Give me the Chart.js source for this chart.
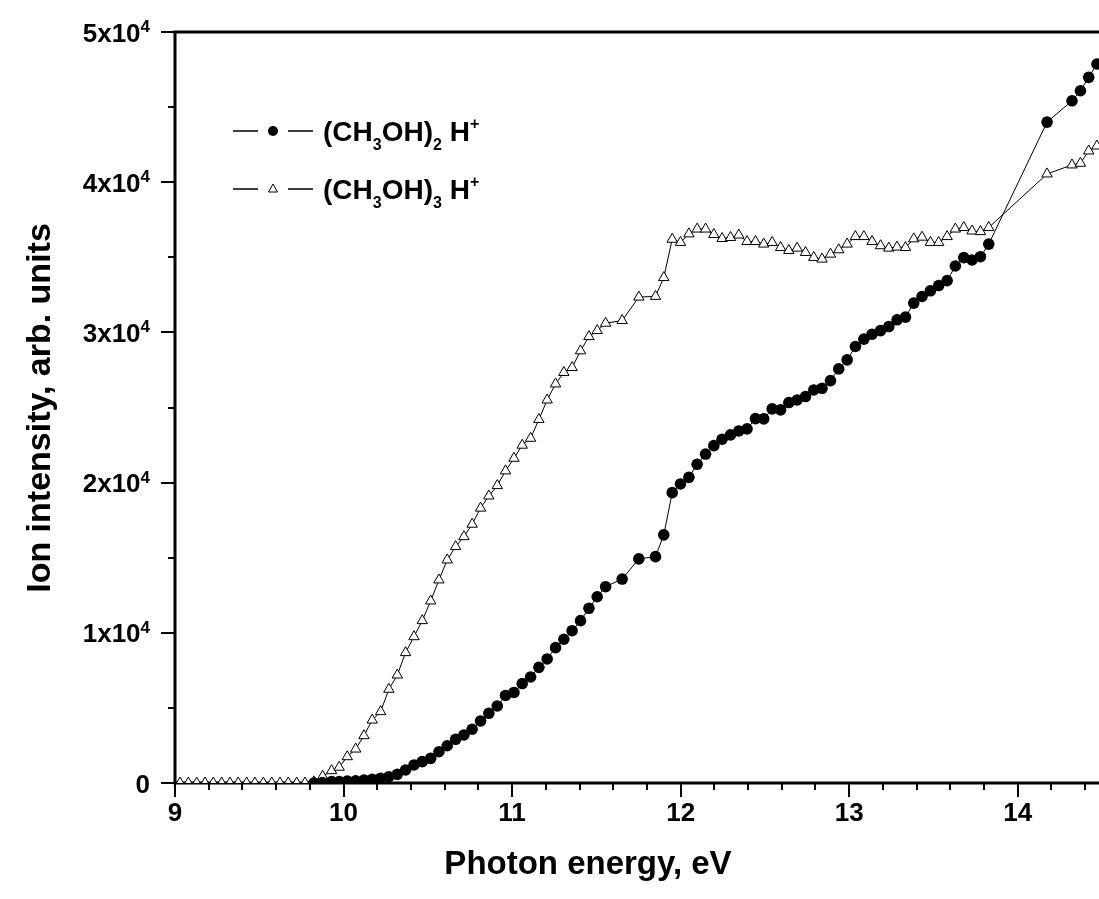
<!DOCTYPE html>
<html lang="en">
<head>
<meta charset="UTF-8">
<title>Ion intensity vs photon energy</title>
<script src="https://cdn.jsdelivr.net/npm/chart.js@4.4.0/dist/chart.umd.min.js"></script>
<style>
  html, body { margin: 0; padding: 0; background: #fff; overflow: hidden; }
  canvas { display: block; }
</style>
</head>
<body>
<canvas id="myChart" width="1104" height="899"></canvas>
<script>
// photon energy (eV), shared by both series
var energy = [
  9.030, 9.079, 9.129, 9.178, 9.227, 9.277, 9.326, 9.375, 9.425, 9.474,
  9.524, 9.574, 9.623, 9.672, 9.722, 9.771, 9.824, 9.876, 9.929, 9.974,
  10.022, 10.072, 10.121, 10.170, 10.220, 10.269, 10.319, 10.368, 10.418, 10.467,
  10.517, 10.566, 10.615, 10.665, 10.714, 10.763, 10.813, 10.862, 10.912, 10.961,
  11.011, 11.060, 11.110, 11.159, 11.208, 11.258, 11.307, 11.356, 11.406, 11.456,
  11.505, 11.555, 11.653, 11.752, 11.851, 11.900, 11.950, 11.999, 12.049, 12.098,
  12.148, 12.197, 12.246, 12.296, 12.345, 12.394, 12.444, 12.493, 12.543, 12.593,
  12.642, 12.691, 12.741, 12.790, 12.839, 12.889, 12.938, 12.988, 13.037, 13.087,
  13.136, 13.186, 13.235, 13.284, 13.334, 13.383, 13.432, 13.482, 13.531, 13.581,
  13.630, 13.680, 13.729, 13.779, 13.828, 14.174, 14.322, 14.372, 14.421, 14.470
];
// (CH3OH)2 H+  (filled circles)
var dimer = [
  null, null, null, null, null, null, null, null, null, null,
  null, null, null, null, null, null, 0, 30, 90, 90,
  130, 150, 200, 250, 310, 420, 580, 870, 1200, 1420,
  1640, 2080, 2480, 2910, 3200, 3580, 4130, 4640, 5130, 5830,
  6030, 6620, 7060, 7700, 8260, 9010, 9570, 10140, 10810, 11630,
  12400, 13070, 13580, 14920, 15070, 16520, 19330, 19910, 20350, 21220,
  21900, 22460, 22890, 23180, 23440, 23580, 24260, 24240, 24910, 24840,
  25330, 25500, 25730, 26170, 26280, 26790, 27570, 28170, 29060, 29550,
  29880, 30120, 30390, 30840, 31020, 31950, 32390, 32770, 33120, 33450,
  34420, 34980, 34820, 35040, 35880, 44000, 45420, 46090, 46980, 47870
];
// (CH3OH)3 H+  (open triangles)
var trimer = [
  0, 0, 0, 0, 0, 0, 0, 0, 0, 0,
  0, 0, 0, 0, 0, 0, 80, 450, 820, 1050,
  1750, 2260, 3150, 4190, 4750, 6240, 7190, 8680, 9740, 10810,
  12120, 13520, 14850, 15740, 16400, 17230, 18300, 19110, 19800, 20780,
  21620, 22490, 22950, 24200, 25500, 26570, 27330, 27660, 28770, 29720,
  30120, 30610, 30790, 32350, 32400, 33650, 36200, 35990, 36560, 36880,
  36880, 36520, 36250, 36320, 36480, 36050, 36050, 35880, 35990, 35650,
  35450, 35610, 35320, 34990, 34880, 35210, 35500, 35880, 36380, 36380,
  36050, 35770, 35610, 35680, 35650, 36230, 36340, 35990, 35990, 36380,
  36880, 36980, 36750, 36710, 36980, 40550, 41150, 41260, 42080, 42410
];

var xTicks = [9, 10, 11, 12, 13, 14];
var yTicks = [0, 10000, 20000, 30000, 40000, 50000];
var yTickLabels = [['0', ''], ['1x10', '4'], ['2x10', '4'], ['3x10', '4'], ['4x10', '4'], ['5x10', '4']];
var xTitle = 'Photon energy, eV';
var yTitle = 'Ion intensity, arb. units';
// legend text pieces: 0 normal, 1 subscript, 2 superscript
var seriesLabels = [
  [['(CH', 0], ['3', 1], ['OH)', 0], ['2', 1], [' H', 0], ['+', 2]],
  [['(CH', 0], ['3', 1], ['OH)', 0], ['3', 1], [' H', 0], ['+', 2]]
];

var FONT = "'Liberation Sans', Arial, Helvetica, sans-serif";

function toPoints(ys) {
  var pts = [];
  for (var i = 0; i < energy.length; i++) {
    if (ys[i] !== null) pts.push({ x: energy[i], y: ys[i] });
  }
  return pts;
}

function drawRich(ctx, x, y, parts, size, small) {
  ctx.textAlign = 'left';
  ctx.textBaseline = 'alphabetic';
  for (var i = 0; i < parts.length; i++) {
    var t = parts[i][0], kind = parts[i][1];
    var dy = 0;
    if (kind === 0) ctx.font = 'bold ' + size + 'px ' + FONT;
    else ctx.font = 'bold ' + small + 'px ' + FONT;
    if (kind === 1) dy = 9;
    if (kind === 2) dy = -12;
    ctx.fillText(t, x, y + dy);
    x += ctx.measureText(t).width;
  }
}

var framePlugin = {
  id: 'frame',
  beforeDatasetsDraw: function(chart) {
    var ctx = chart.ctx, a = chart.chartArea;
    var xs = chart.scales.x, ys = chart.scales.y;
    ctx.save();
    ctx.strokeStyle = '#000';
    ctx.lineWidth = 3;
    ctx.strokeRect(a.left, a.top, a.right - a.left, a.bottom - a.top);

    // ticks, outward
    ctx.lineWidth = 2;
    ctx.beginPath();
    for (var i = 0; i <= 27; i++) {
      var px = Math.round(xs.getPixelForValue(9 + i * 0.2));
      var len = (i % 5 === 0) ? 14 : 7;
      ctx.moveTo(px, a.bottom);
      ctx.lineTo(px, a.bottom + len);
    }
    for (var j = 0; j <= 10; j++) {
      var py = Math.round(ys.getPixelForValue(j * 5000));
      var l2 = (j % 2 === 0) ? 14 : 7;
      ctx.moveTo(a.left, py);
      ctx.lineTo(a.left - l2, py);
    }
    ctx.stroke();

    ctx.fillStyle = '#000';
    // x tick labels
    ctx.font = 'bold 26px ' + FONT;
    ctx.textAlign = 'center';
    ctx.textBaseline = 'alphabetic';
    xTicks.forEach(function(v) {
      ctx.fillText(String(v), xs.getPixelForValue(v), 821);
    });
    // y tick labels with exponent
    yTicks.forEach(function(v, k) {
      var main = yTickLabels[k][0], sup = yTickLabels[k][1];
      var py = ys.getPixelForValue(v);
      ctx.font = 'bold 17px ' + FONT;
      var ws = ctx.measureText(sup).width;
      ctx.font = 'bold 26px ' + FONT;
      var wm = ctx.measureText(main).width;
      var x0 = 150 - wm - ws;
      ctx.textAlign = 'left';
      ctx.fillText(main, x0, py + 9.5);
      if (sup) {
        ctx.font = 'bold 17px ' + FONT;
        ctx.fillText(sup, x0 + wm, py);
      }
    });

    // axis titles
    ctx.font = 'bold 33px ' + FONT;
    ctx.textAlign = 'center';
    ctx.fillText(xTitle, 588, 874);
    ctx.save();
    ctx.translate(50, 408);
    ctx.rotate(-Math.PI / 2);
    ctx.font = 'bold 34px ' + FONT;
    ctx.fillText(yTitle, 0, 0);
    ctx.restore();

    // legend
    var rows = [131, 189];
    ctx.lineWidth = 1.3;
    rows.forEach(function(ry, k) {
      ctx.beginPath();
      ctx.moveTo(233, ry); ctx.lineTo(258, ry);
      ctx.moveTo(288, ry); ctx.lineTo(313, ry);
      ctx.stroke();
      if (k === 0) {
        ctx.beginPath();
        ctx.arc(273, ry, 5, 0, Math.PI * 2);
        ctx.fill();
      } else {
        ctx.lineWidth = 1;
        ctx.beginPath();
        ctx.moveTo(273, ry - 5);
        ctx.lineTo(277.5, ry + 3);
        ctx.lineTo(268.5, ry + 3);
        ctx.closePath();
        ctx.stroke();
      }
      drawRich(ctx, 323, ry + 10, seriesLabels[k], 28, 16);
    });
    ctx.restore();
  }
};

var ctx = document.getElementById('myChart').getContext('2d');
var chart = new Chart(ctx, {
  type: 'line',
  data: {
    datasets: [{
      label: '(CH3OH)2 H+',
      data: toPoints(dimer),
      borderColor: '#000',
      borderWidth: 1,
      pointStyle: 'circle',
      pointRadius: 5.8,
      pointBackgroundColor: '#000',
      pointBorderColor: '#000',
      pointBorderWidth: 0,
      tension: 0
    }, {
      label: '(CH3OH)3 H+',
      data: toPoints(trimer),
      borderColor: '#000',
      borderWidth: 1,
      pointStyle: 'triangle',
      pointRadius: 6,
      pointBackgroundColor: '#fff',
      pointBorderColor: '#000',
      pointBorderWidth: 1,
      tension: 0
    }]
  },
  options: {
    responsive: false,
    animation: false,
    layout: { autoPadding: false, padding: { top: 32, right: 2, left: 0, bottom: 0 } },
    plugins: { legend: { display: false }, tooltip: { enabled: false } },
    scales: {
      x: {
        type: 'linear', min: 9, max: 14.5,
        ticks: { display: false },
        grid: { display: false },
        border: { display: false },
        afterFit: function(s) { s.height = 116; s.paddingLeft = 0; s.paddingRight = 0; }
      },
      y: {
        min: 0, max: 50000,
        ticks: { display: false },
        grid: { display: false },
        border: { display: false },
        afterFit: function(s) { s.width = 175; s.paddingTop = 0; s.paddingBottom = 0; }
      }
    }
  },
  plugins: [framePlugin]
});
</script>
</body>
</html>
